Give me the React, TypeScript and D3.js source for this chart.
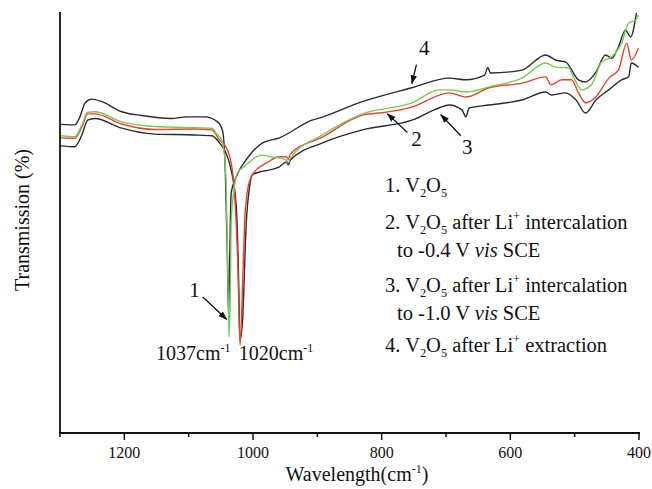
import React from "react";
import * as d3 from "d3";

// wavenumber (cm^-1), transmission (arbitrary %)
const series1: [number, number][] = [
  [1300, 70.6], [1277, 70.4], [1266, 73.2], [1257, 76.2], [1246, 76.3], [1204, 73.9], [1153, 72.8],
  [1091, 72.5], [1064, 72.4], [1057, 71.2], [1049, 69.6], [1044, 65.6], [1041.5, 57.7], [1039, 36.3],
  [1037, 22.8], [1035, 36.3], [1034, 49.9], [1029, 58.4], [1024, 61.8], [1016, 63.0], [1005, 64.4],
  [995, 65.6], [985, 66.0], [972, 65.6], [959, 65.3], [948, 64.8], [945, 64.2], [942, 65.3],
  [892, 70.8], [830, 75.8], [753, 78.4], [711, 81.5], [695, 81.5], [669, 81.0], [633, 82.2],
  [582, 84.3], [545, 87.9], [530, 86.9], [509, 86.7], [502, 84.6], [489, 81.5], [474, 82.7],
  [458, 88.1], [443, 89.3], [427, 92.6], [416, 97.4], [405, 98.1], [401, 99.3],
];
const series2: [number, number][] = [
  [1300, 70.1], [1277, 70.0], [1266, 72.7], [1257, 75.8], [1246, 75.8], [1204, 73.4], [1153, 72.1],
  [1091, 72.2], [1064, 72.0], [1052, 69.6], [1044, 68.4], [1036, 65.6], [1029, 57.7], [1024, 41.9],
  [1020, 20.9], [1016.5, 34.0], [1013, 49.9], [1008.5, 57.7], [1003, 60.8], [995, 62.5], [979.5, 64.1],
  [959, 65.6], [948, 65.6], [945, 65.0], [942, 66.3], [892, 70.3], [830, 75.5], [793, 76.2],
  [753, 77.4], [695, 80.8], [669, 79.8], [633, 82.0], [582, 83.1], [545, 84.6], [537, 82.7],
  [520, 83.9], [505, 83.9], [494, 80.8], [483, 78.4], [467, 79.8], [447, 84.3], [432, 86.2],
  [419, 92.6], [412, 88.6], [401, 91.4],
];
const series3: [number, number][] = [
  [1300, 68.2], [1277, 68.0], [1266, 70.8], [1257, 74.3], [1246, 74.7], [1204, 72.4], [1153, 71.0],
  [1091, 70.8], [1064, 70.6], [1052, 68.9], [1042, 66.5], [1034, 62.5], [1026, 53.8], [1022, 34.0],
  [1020.5, 22.1], [1016.5, 26.1], [1010.5, 49.9], [1005.5, 58.4], [1001, 61.3], [990, 62.0],
  [974, 62.5], [959, 63.2], [948, 64.4], [945, 63.7], [942, 64.8], [892, 68.9], [830, 72.0],
  [753, 74.3], [711, 77.2], [695, 77.9], [675, 76.7], [669, 75.1], [664, 77.2], [633, 77.9],
  [582, 79.1], [545, 81.0], [536, 80.3], [514, 80.8], [498, 79.1], [483, 76.0], [467, 79.1],
  [447, 81.5], [427, 83.9], [416, 84.6], [412, 87.9], [401, 86.9],
];
const series4: [number, number][] = [
  [1300, 73.3], [1277, 73.2], [1269, 75.1], [1261, 78.4], [1251, 79.3], [1235, 78.7], [1204, 76.3],
  [1173, 75.4], [1127, 74.7], [1102, 75.1], [1075, 75.1], [1055, 73.9], [1047, 71.6], [1043, 61.8],
  [1040, 43.5], [1038, 28.0], [1036, 43.5], [1034, 57.0], [1026, 60.8], [1021, 62.5], [1011, 64.8],
  [1001, 66.8], [985, 68.9], [959, 70.1], [908, 74.3], [897, 74.8], [830, 78.7], [753, 82.0],
  [695, 84.3], [669, 83.9], [640, 85.0], [635, 86.8], [631, 85.5], [582, 86.2], [545, 89.8],
  [530, 88.6], [514, 88.1], [494, 83.9], [483, 83.4], [467, 85.7], [452, 89.8], [442, 89.0],
  [432, 91.7], [421, 95.7], [413, 94.1], [404, 99.8],
];

const majorTicks = [1200, 1000, 800, 600, 400];
const minorTicks = [1300, 1100, 900, 700, 500];
const xTitle = "Wavelength(cm";
const yTitle = "Transmission (%)";

type Part = { t: string; sub?: boolean; sup?: boolean; it?: boolean };
const legendLines: { parts: Part[]; indent: boolean }[] = [
  { parts: [{ t: "1. V" }, { t: "2", sub: true }, { t: "O" }, { t: "5", sub: true }], indent: false },
  { parts: [{ t: "2. V" }, { t: "2", sub: true }, { t: "O" }, { t: "5", sub: true }, { t: " after Li" }, { t: "+", sup: true }, { t: " intercalation" }], indent: false },
  { parts: [{ t: "to -0.4 V " }, { t: "vis", it: true }, { t: " SCE" }], indent: true },
  { parts: [{ t: "3. V" }, { t: "2", sub: true }, { t: "O" }, { t: "5", sub: true }, { t: " after Li" }, { t: "+", sup: true }, { t: " intercalation" }], indent: false },
  { parts: [{ t: "to -1.0 V " }, { t: "vis", it: true }, { t: " SCE" }], indent: true },
  { parts: [{ t: "4. V" }, { t: "2", sub: true }, { t: "O" }, { t: "5", sub: true }, { t: " after Li" }, { t: "+", sup: true }, { t: " extraction" }], indent: false },
];
const legendBaselines = [192, 229, 257, 292, 320, 352];

// annotations in data coordinates: label, label position, arrow tail, arrow tip
const annotations = [
  { label: "1", at: [1091, 34.0], tail: [1078, 32.3], tip: [1041, 27.0] },
  { label: "2", at: [746, 70.0], tail: [760, 71.4], tip: [791, 75.8] },
  { label: "3", at: [667, 67.9], tail: [677, 70.6], tip: [708, 75.6] },
  { label: "4", at: [734, 91.6], tail: [746, 87.5], tip: [753, 83.0] },
];

const FONT = "'Liberation Serif', 'Times New Roman', serif";

function Rich({ x, y, parts, size, anchor }: { x: number; y: number; parts: Part[]; size: number; anchor?: string }) {
  let cur = 0;
  return (
    <text x={x} y={y} fontSize={size} textAnchor={anchor || "start"} fontFamily={FONT} fill="#111" style={{ whiteSpace: "pre" }}>
      {parts.map((p, i) => {
        const off = p.sub ? size * 0.25 : p.sup ? -size * 0.42 : 0;
        const dy = off - cur;
        cur = off;
        return (
          <tspan key={i} dy={dy} fontSize={p.sub || p.sup ? size * 0.6 : size} fontStyle={p.it ? "italic" : undefined}>
            {p.t}
          </tspan>
        );
      })}
    </text>
  );
}

export default function App() {
  const width = 652, height = 489;
  const x = d3.scaleLinear().domain([1300, 400]).range([60, 639]);
  const y = d3.scaleLinear().domain([0, 100]).range([433, 12]);
  const line = d3.line<[number, number]>().x((d) => x(d[0])).y((d) => y(d[1])).curve(d3.curveMonotoneX);

  const curves = [
    { data: series3, color: "#2b2b2b" },
    { data: series4, color: "#2b2b2b" },
    { data: series2, color: "#e5452f" },
    { data: series1, color: "#79c85a" },
  ];

  return (
    <svg width={width} height={height} style={{ position: "absolute", left: 0, top: 0, background: "#fff" }}>
      <defs>
        <marker id="ah" viewBox="0 0 10 10" refX="9" refY="5" markerWidth="7" markerHeight="7" orient="auto">
          <path d="M0,1.5 L10,5 L0,8.5 Z" fill="#111" />
        </marker>
      </defs>
      {curves.map((c, i) => (
        <path key={i} d={line(c.data) || ""} fill="none" stroke={c.color} strokeWidth={1.4} strokeLinejoin="round" />
      ))}
      {/* axes */}
      <line x1={x(1300)} x2={x(1300)} y1={y(100)} y2={y(0)} stroke="#111" strokeWidth={1.8} />
      <line x1={x(1300) - 1} x2={x(400) + 1} y1={y(0)} y2={y(0)} stroke="#111" strokeWidth={1.8} />
      {majorTicks.map((t) => (
        <g key={t}>
          <line x1={x(t)} x2={x(t)} y1={y(0)} y2={y(0) + 7} stroke="#111" strokeWidth={1.5} />
          <text x={x(t)} y={458} fontSize={16} textAnchor="middle" fontFamily={FONT} fill="#111">{t}</text>
        </g>
      ))}
      {minorTicks.map((t) => (
        <line key={t} x1={x(t)} x2={x(t)} y1={y(0)} y2={y(0) + 4} stroke="#111" strokeWidth={1.5} />
      ))}
      <Rich x={357} y={481} size={20} anchor="middle" parts={[{ t: xTitle }, { t: "-1", sup: true }, { t: ")" }]} />
      <text transform={`translate(29,220) rotate(-90)`} fontSize={20} textAnchor="middle" fontFamily={FONT} fill="#111">{yTitle}</text>

      {/* annotations */}
      {annotations.map((a) => (
        <g key={a.label}>
          <line x1={x(a.tail[0])} y1={y(a.tail[1])} x2={x(a.tip[0])} y2={y(a.tip[1])} stroke="#111" strokeWidth={1.3} markerEnd="url(#ah)" />
          <text x={x(a.at[0])} y={y(a.at[1])} dy="0.35em" fontSize={21} textAnchor="middle" fontFamily={FONT} fill="#111">{a.label}</text>
        </g>
      ))}
      <Rich x={x(1035)} y={y(17.3)} size={20} anchor="end" parts={[{ t: "1037cm" }, { t: "-1", sup: true }]} />
      <Rich x={x(1022)} y={y(17.3)} size={20} parts={[{ t: "1020cm" }, { t: "-1", sup: true }]} />

      {/* legend */}
      {legendLines.map((l, i) => (
        <Rich key={i} x={l.indent ? 397 : 385} y={legendBaselines[i]} size={20.5} parts={l.parts} />
      ))}
    </svg>
  );
}
